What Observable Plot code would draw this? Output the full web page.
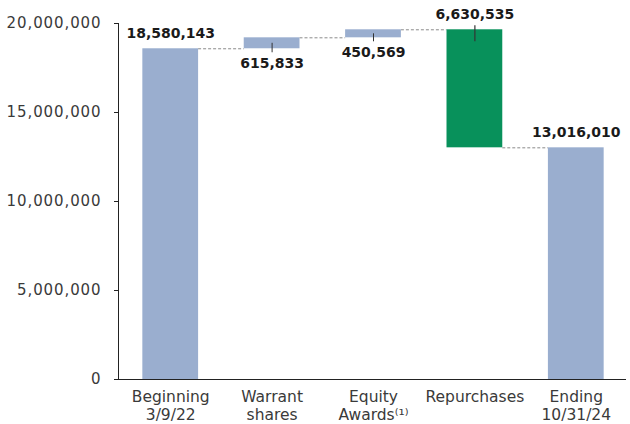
<!DOCTYPE html>
<html>
<head>
<meta charset="utf-8">
<script src="https://cdn.jsdelivr.net/npm/d3@7"></script>
<script src="https://cdn.jsdelivr.net/npm/@observablehq/plot@0.6"></script>
<style>
  html, body { margin: 0; padding: 0; background: #fff; }
  g[aria-label="y-axis tick label"] text { letter-spacing: 0.9px; }
</style>
</head>
<body>
<div id="chart"></div>
<script>
const categories = ["Beginning\n3/9/22", "Warrant\nshares", "Equity\nAwards⁽¹⁾", "Repurchases", "Ending\n10/31/24"];
const values = [18580143, 615833, 450569, -6630535, 13016010];
const kinds = ["total", "increase", "increase", "decrease", "total"];
const yTicks = [0, 5000000, 10000000, 15000000, 20000000];

const BLUE = "#9aaecf";
const GREEN = "#08915b";
const HALF = 0.275;

let running = 0;
const rows = values.map((v, i) => {
  let lo, hi;
  if (kinds[i] === "total") { lo = 0; hi = v; running = v; }
  else { const a = running, b = running + v; lo = Math.min(a, b); hi = Math.max(a, b); running = b; }
  return {i, cat: categories[i], kind: kinds[i], lo, hi, mid: (lo + hi) / 2, level: running, label: d3.format(",")(Math.abs(v))};
});
const connectors = rows.slice(0, -1).map(d => ({i: d.i, level: d.level}));

const fmt = d3.format(",");

const plot = Plot.plot({
  width: 630,
  height: 424,
  marginLeft: 118,
  marginRight: 2,
  marginTop: 23,
  marginBottom: 45,
  style: {fontFamily: "'DejaVu Sans', sans-serif", background: "#fff", color: "#333"},
  x: {type: "linear", domain: [-0.515, 4.515], axis: null},
  y: {domain: [0, 20000000], axis: null},
  marks: [
    Plot.ruleY(connectors, {x1: d => d.i + HALF, x2: d => d.i + 1 - HALF, y: "level", stroke: "#8a8a8a", strokeDasharray: "3,2", strokeWidth: 1}),
    Plot.rectY(rows, {x1: d => d.i - HALF, x2: d => d.i + HALF, y1: "lo", y2: "hi", fill: d => d.kind === "decrease" ? GREEN : BLUE}),
    Plot.ruleX(rows.filter(d => d.kind === "increase"), {x: "i", y1: "mid", y2: "lo", insetBottom: -4, stroke: "#333", strokeWidth: 1}),
    Plot.ruleX(rows.filter(d => d.kind === "decrease"), {x: "i", y1: "hi", y2: "hi", insetTop: -4, insetBottom: -12, stroke: "#333", strokeWidth: 1.2}),
    Plot.text(rows.filter(d => d.kind !== "increase"), {x: "i", y: "hi", text: "label", dy: -15, fontSize: 14, fontWeight: "bold", fill: "#1a1a1a"}),
    Plot.text(rows.filter(d => d.kind === "increase"), {x: "i", y: "lo", text: "label", dy: 15, fontSize: 14, fontWeight: "bold", fill: "#1a1a1a"}),
    Plot.axisY({ticks: yTicks, tickFormat: fmt, tickSize: 4, tickPadding: 13, fontSize: 15, fill: "#3a3a3a", stroke: "#222", label: null}),
    Plot.axisX({ticks: rows.map(d => d.i), tickFormat: i => categories[i], tickSize: 0, tickPadding: 10, fontSize: 15.5, lineHeight: 1.16, fill: "#3a3a3a", label: null}),
    Plot.frame({anchor: "left", stroke: "#222"}),
    Plot.ruleY([0], {stroke: "#222", insetLeft: -4, insetRight: 2})
  ]
});
document.getElementById("chart").appendChild(plot);
</script>
</body>
</html>
